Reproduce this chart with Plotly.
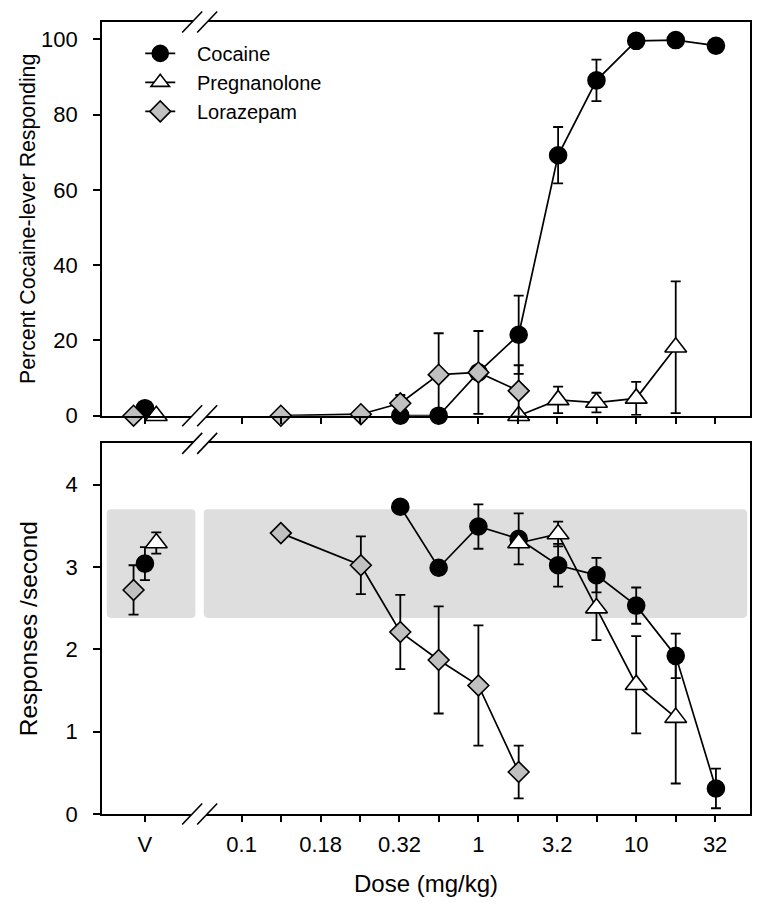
import numpy as np
import plotly.graph_objects as go

# ---------------- data ----------------
coc_dose = [0.32, 0.56, 1, 1.8, 3.2, 5.6, 10, 17.8, 32]
coc_pct = [0, 0, 11.5, 21.5, 69.2, 89.1, 99.6, 99.8, 98.3]
coc_pct_err = [0, 0, 0, 10.4, 7.5, 5.5, 0, 0, 0]
coc_rate = [3.73, 2.99, 3.49, 3.34, 3.02, 2.90, 2.53, 1.92, 0.31]
coc_rate_err = [0, 0, 0.27, 0.31, 0.26, 0.21, 0.22, 0.27, 0.24]

preg_dose = [1.8, 3.2, 5.6, 10, 17.8]
preg_pct = [0, 4.2, 3.5, 4.6, 18.2]
preg_pct_err = [0, 3.5, 2.6, 4.4, 17.5]
preg_rate = [3.29, 3.40, 2.50, 1.57, 1.17]
preg_rate_err = [0, 0.15, 0.39, 0.59, 0.80]

lor_dose = [0.056, 0.18, 0.32, 0.56, 1, 1.8]
lor_pct = [0, 0.4, 3.3, 10.9, 11.5, 6.6]
lor_pct_err = [0, 0, 2.2, 11.0, 11.0, 6.8]
lor_rate = [3.41, 3.02, 2.21, 1.87, 1.56, 0.51]
lor_rate_err = [0, 0.35, 0.45, 0.65, 0.73, 0.32]

# vehicle (V) values
veh_pct = {"Cocaine": 2.0, "Pregnanolone": 0.0, "Lorazepam": 0.0}
veh_pct_err = {"Cocaine": 0, "Pregnanolone": 0, "Lorazepam": 0}
veh_rate = {"Cocaine": 3.04, "Pregnanolone": 3.29, "Lorazepam": 2.72}
veh_rate_err = {"Cocaine": 0.20, "Pregnanolone": 0.13, "Lorazepam": 0.30}

# control band for response rate
band_low, band_high = 2.38, 3.70

# x tick labels (as printed on the original figure)
tick_log_pos = [-1.5, -1.25, -1.0, -0.75, -0.5, -0.25, 0, 0.25, 0.5, 0.75, 1.0, 1.25, 1.5]
tick_text = ["0.1", "", "0.18", "", "0.32", "", "1", "", "3.2", "", "10", "", "32"]

# ---------------- layout constants (log10 dose units) ----------------
X_LEFT, X_RIGHT = -2.385, 1.721
V_POS = -2.113
BREAK_X = -1.766
V_OFFSET = {"Cocaine": 0.0, "Pregnanolone": 0.072, "Lorazepam": -0.072}

FONT = "Liberation Sans, Arial, sans-serif"
NB = "\u00a0\u00a0\u00a0"

styles = {
    "Cocaine": dict(symbol="circle", size=17, color="black"),
    "Pregnanolone": dict(symbol="triangle-up", size=19, color="white"),
    "Lorazepam": dict(symbol="diamond", size=16, color="#c0c0c0"),
}

series = [
    ("Cocaine", coc_dose, coc_pct, coc_pct_err, coc_rate, coc_rate_err),
    ("Pregnanolone", preg_dose, preg_pct, preg_pct_err, preg_rate, preg_rate_err),
    ("Lorazepam", lor_dose, lor_pct, lor_pct_err, lor_rate, lor_rate_err),
]

fig = go.Figure()


def err(arr):
    return dict(type="data", array=arr, visible=True, color="black",
                thickness=1.8, width=5)


for name, dose, pct, pct_e, rate, rate_e in series:
    st = styles[name]
    mk = dict(symbol=st["symbol"], size=st["size"], color=st["color"],
              line=dict(color="black", width=1.6))
    xlog = np.log10(dose)
    vx = [V_POS + V_OFFSET[name]]
    fig.add_trace(go.Scatter(x=xlog, y=pct, mode="lines+markers", name=NB + name,
                             marker=mk, line=dict(color="black", width=1.7),
                             error_y=err(pct_e), cliponaxis=False,
                             xaxis="x", yaxis="y", legendgroup=name))
    fig.add_trace(go.Scatter(x=vx, y=[veh_pct[name]], mode="markers", name=name,
                             marker=mk, error_y=err([veh_pct_err[name]]),
                             cliponaxis=False, showlegend=False,
                             xaxis="x", yaxis="y", legendgroup=name))
    fig.add_trace(go.Scatter(x=xlog, y=rate, mode="lines+markers", name=name,
                             marker=mk, line=dict(color="black", width=1.7),
                             error_y=err(rate_e), cliponaxis=False, showlegend=False,
                             xaxis="x2", yaxis="y2", legendgroup=name))
    fig.add_trace(go.Scatter(x=vx, y=[veh_rate[name]], mode="markers", name=name,
                             marker=mk, error_y=err([veh_rate_err[name]]),
                             cliponaxis=False, showlegend=False,
                             xaxis="x2", yaxis="y2", legendgroup=name))

tickvals = [V_POS] + tick_log_pos
ticktext = ["V"] + tick_text

xcommon = dict(range=[X_LEFT, X_RIGHT], tickmode="array", tickvals=tickvals,
               ticks="outside", ticklen=6, tickwidth=1.5, tickcolor="black",
               showline=True, linecolor="black", linewidth=1.6, mirror=True,
               showgrid=False, zeroline=False,
               tickfont=dict(family=FONT, size=22, color="black"))
ycommon = dict(ticks="outside", ticklen=7, tickwidth=1.5, tickcolor="black",
               showline=True, linecolor="black", linewidth=1.6, mirror=True,
               showgrid=False, zeroline=False, ticklabelstandoff=11,
               tickfont=dict(family=FONT, size=22, color="black"))

# page body has an 8px default margin: size/margins compensate for it
fig.update_layout(
    width=748, height=893,
    margin=dict(l=94, r=4, t=14, b=87),
    paper_bgcolor="white", plot_bgcolor="white",
    font=dict(family=FONT, size=21, color="black"),
    showlegend=True,
    legend=dict(x=0.059, y=0.985, xanchor="left", yanchor="top",
                bgcolor="rgba(0,0,0,0)", font=dict(family=FONT, size=20),
                tracegroupgap=0),
    xaxis=dict(**xcommon, ticktext=[""] * len(ticktext), anchor="y"),
    yaxis=dict(**ycommon, domain=[0.5029, 1.0], range=[0, 104.6],
               tickvals=[0, 20, 40, 60, 80, 100],
               title=dict(text="Percent Cocaine-lever Responding",
                          font=dict(family=FONT, size=21.3), standoff=0)),
    xaxis2=dict(**xcommon, ticktext=ticktext, anchor="y2", ticklabelstandoff=4,
                title=dict(text="Dose (mg/kg)", font=dict(family=FONT, size=24),
                           standoff=19)),
    yaxis2=dict(**ycommon, domain=[0.0, 0.468], range=[0, 4.5],
                tickvals=[0, 1, 2, 3, 4],
                title=dict(text="Responses /second",
                           font=dict(family=FONT, size=24.5), standoff=21)),
)

shapes = []


def rounded_rect(x0, x1, y0, y1, rx, ry):
    return (f"M {x0+rx},{y0} L {x1-rx},{y0} Q {x1},{y0} {x1},{y0+ry} "
            f"L {x1},{y1-ry} Q {x1},{y1} {x1-rx},{y1} L {x0+rx},{y1} "
            f"Q {x0},{y1} {x0},{y1-ry} L {x0},{y0+ry} Q {x0},{y0} {x0+rx},{y0} Z")


rx, ry = 0.028, 0.05
for bx0, bx1 in [(-2.355, -1.793), (-1.740, 1.703)]:
    shapes.append(dict(type="path", xref="x2", yref="y2",
                       path=rounded_rect(bx0, bx1, band_low, band_high, rx, ry),
                       fillcolor="#dedede", line=dict(width=0), layer="below"))

for yref, anchor in [("y domain", 0), ("y domain", 1), ("y2 domain", 0), ("y2 domain", 1)]:
    xref = "x" if yref.startswith("y ") else "x2"
    shapes.append(dict(type="path", xref=xref, yref=yref,
                       xsizemode="pixel", ysizemode="pixel",
                       xanchor=BREAK_X, yanchor=anchor,
                       path="M -10.4,-3 L 4.6,-3 L 10.4,3 L -4.6,3 Z",
                       fillcolor="white", line=dict(width=0), layer="above"))
    for dx in (-7.5, 7.5):
        shapes.append(dict(type="line", xref=xref, yref=yref,
                           xsizemode="pixel", ysizemode="pixel",
                           xanchor=BREAK_X, yanchor=anchor,
                           x0=dx - 10, x1=dx + 10, y0=-10.5, y1=10.5,
                           line=dict(color="black", width=1.6), layer="above"))

fig.update_layout(shapes=shapes)

fig.write_html("out.html")
